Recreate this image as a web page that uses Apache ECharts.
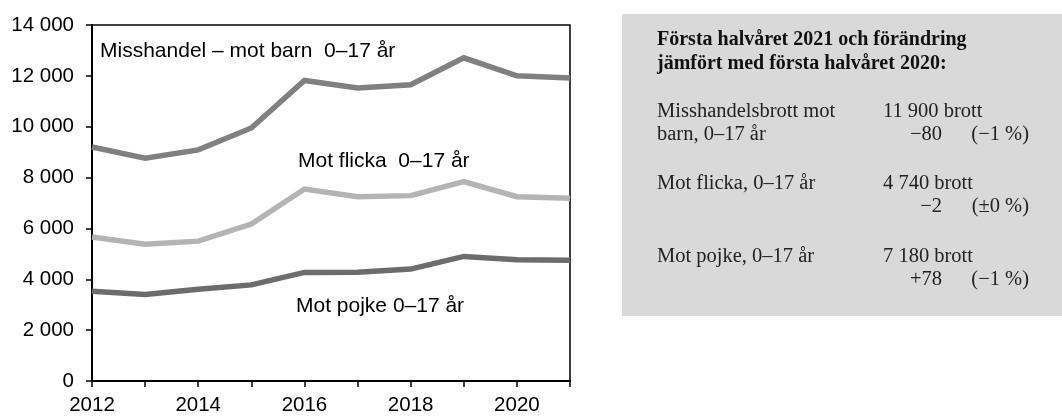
<!DOCTYPE html>
<html>
<head>
<meta charset="utf-8">
<script src="https://cdn.jsdelivr.net/npm/echarts@6/dist/echarts.min.js"></script>
<style>
html,body{margin:0;padding:0;background:#fff;}
#chart{width:1062px;height:416px;}
</style>
</head>
<body>
<div id="chart"></div>
<script>
var years = ['2012','2013','2014','2015','2016','2017','2018','2019','2020','2021'];
var misshandel = [9200, 8760, 9090, 9950, 11820, 11520, 11650, 12710, 12000, 11920];
var flicka = [5660, 5380, 5500, 6170, 7550, 7250, 7290, 7840, 7250, 7190];
var pojke = [3530, 3400, 3610, 3780, 4270, 4280, 4400, 4900, 4770, 4750];
var yTicks = [0, 2000, 4000, 6000, 8000, 10000, 12000, 14000];

var seriesLabels = ['Misshandel – mot barn  0–17 år', 'Mot flicka  0–17 år', 'Mot pojke 0–17 år'];
var boxTitle = ['Första halvåret 2021 och förändring', 'jämfört med första halvåret 2020:'];
var boxRows = [
  ['Misshandelsbrott mot', '11 900 brott', 'barn, 0–17 år', '−80', '(−1 %)'],
  ['Mot flicka, 0–17 år', '4 740 brott', '', '−2', '(±0 %)'],
  ['Mot pojke, 0–17 år', '7 180 brott', '', '+78', '(−1 %)']
];

function fmt(v){ return String(v).replace(/\B(?=(\d{3})+(?!\d))/g, ' '); }

var chart = echarts.init(document.getElementById('chart'), null, {renderer:'canvas'});
var sans = 'Liberation Sans, Arial, sans-serif';
var serif = 'Liberation Serif, Times New Roman, serif';

function lab(t, x, y){
  return {type:'text', x:x, y:y, style:{text:t, font:'21px ' + sans, fill:'#000', verticalAlign:'top'}};
}
var graphics = [
  {type:'rect', shape:{x:622, y:14, width:440, height:302}, style:{fill:'#d9d9d9'}, z:0},
  lab(seriesLabels[0], 100, 40.5),
  lab(seriesLabels[1], 298, 151),
  lab(seriesLabels[2], 296, 296)
];
var tx = 657, cx = 883, numRight = 942, pctRight = 1029;
graphics.push({type:'text', x:tx, y:30, style:{text:boxTitle[0], font:'bold 20px ' + serif, fill:'#111', verticalAlign:'top'}});
graphics.push({type:'text', x:tx, y:53.5, style:{text:boxTitle[1], font:'bold 20px ' + serif, fill:'#111', verticalAlign:'top'}});
var topY = [101, 173, 246];
for (var i = 0; i < boxRows.length; i++) {
  var r = boxRows[i], b = topY[i];
  var st = function(t, align){ return {text:t, font:'20.5px ' + serif, fill:'#222', align:align || 'left', verticalAlign:'top'}; };
  graphics.push({type:'text', x:tx, y:b, style:st(r[0])});
  graphics.push({type:'text', x:cx, y:b, style:st(r[1])});
  if (r[2]) graphics.push({type:'text', x:tx, y:b + 23.5, style:st(r[2])});
  graphics.push({type:'text', x:numRight, y:b + 23.5, style:st(r[3], 'right')});
  graphics.push({type:'text', x:pctRight, y:b + 23.5, style:st(r[4], 'right')});
}

var lineStyleBase = {width:5.5, cap:'butt', join:'miter'};
chart.setOption({
  animation:false,
  backgroundColor:'#fff',
  grid:{left:92, top:25, right:492, bottom:34, show:true, borderColor:'#000', borderWidth:1.5, containLabel:false},
  xAxis:{
    type:'category', data:years, boundaryGap:false,
    axisLine:{lineStyle:{color:'#000', width:2}},
    axisTick:{show:true, interval:0, length:6, lineStyle:{color:'#000', width:1.5}},
    axisLabel:{interval:1, color:'#000', fontFamily:sans, fontSize:20.5, margin:14},
    splitLine:{show:false}
  },
  yAxis:{
    type:'value', min:0, max:14000, interval:2000,
    axisLine:{show:true, lineStyle:{color:'#000', width:2}},
    axisTick:{show:true, length:6, lineStyle:{color:'#000', width:1.5}},
    axisLabel:{color:'#000', fontFamily:sans, fontSize:20.5, margin:18, formatter:function(v){return fmt(v);}},
    splitLine:{show:false}
  },
  series:[
    {type:'line', data:misshandel, symbol:'none', lineStyle:Object.assign({color:'#808080'}, lineStyleBase), z:3},
    {type:'line', data:flicka, symbol:'none', lineStyle:Object.assign({color:'#b4b4b4'}, lineStyleBase), z:3},
    {type:'line', data:pojke, symbol:'none', lineStyle:Object.assign({color:'#6c6c6c'}, lineStyleBase), z:3}
  ],
  graphic:graphics
});
</script>
</body>
</html>
